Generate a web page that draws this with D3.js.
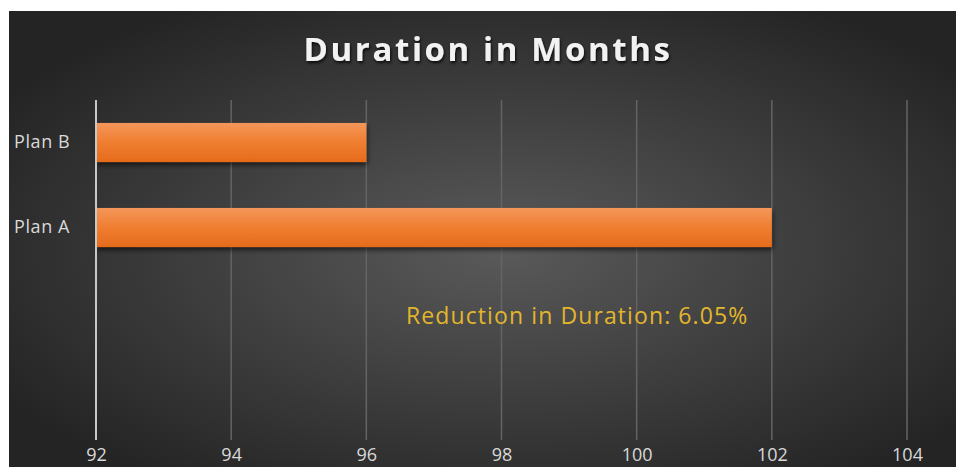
<!DOCTYPE html>
<html><head><meta charset="utf-8">
<script src="https://cdn.jsdelivr.net/npm/d3@7"></script>
<style>body{margin:0;background:#fff;}svg{display:block;font-family:"Open Sans",sans-serif;}</style>
</head><body><svg id="c" width="956" height="467"></svg>
<script>
const categories = ["Plan B", "Plan A"];
const values = [96, 102];
const slots = ["Plan B", "Plan A", "slot3", "slot4"];
const xTicks = [92, 94, 96, 98, 100, 102, 104];
const title = "Duration in Months";
const note = "Reduction in Duration: 6.05%";

const svg = d3.select("#c");
const defs = svg.append("defs");
const rg = defs.append("radialGradient").attr("id","bg").attr("cx","52%").attr("cy","52%").attr("r","62%");
rg.append("stop").attr("offset","0%").attr("stop-color","#5a5a5a");
rg.append("stop").attr("offset","100%").attr("stop-color","#242424");
const lg = defs.append("linearGradient").attr("id","bar").attr("x1",0).attr("y1",0).attr("x2",0).attr("y2",1);
lg.append("stop").attr("offset","0%").attr("stop-color","#f4965a");
lg.append("stop").attr("offset","50%").attr("stop-color","#f07e30");
lg.append("stop").attr("offset","100%").attr("stop-color","#e46b1c");
const f = defs.append("filter").attr("id","sh").attr("x","-5%").attr("y","-20%").attr("width","110%").attr("height","160%");
f.append("feDropShadow").attr("dx",1).attr("dy",3).attr("stdDeviation",2.5).attr("flood-color","#000").attr("flood-opacity",0.6);
const tf = defs.append("filter").attr("id","tsh").attr("x","-5%").attr("y","-20%").attr("width","110%").attr("height","160%");
tf.append("feDropShadow").attr("dx",1).attr("dy",2).attr("stdDeviation",1.5).attr("flood-color","#000").attr("flood-opacity",0.8);

svg.append("rect").attr("x",9).attr("y",11).attr("width",947).attr("height",456).attr("fill","url(#bg)");

const x = d3.scaleLinear().domain([92,104]).range([96,907]);
const y = d3.scaleBand().domain(slots).range([100,440]).paddingInner(0.54).paddingOuter(0.27);

// gridlines
svg.append("g").selectAll("line").data(xTicks.slice(1)).join("line")
  .attr("x1",d=>x(d)).attr("x2",d=>x(d)).attr("y1",100).attr("y2",440)
  .attr("stroke","#646464").attr("stroke-width",1.5);

// bars
svg.append("g").selectAll("rect").data(categories).join("rect")
  .attr("x",x(92)).attr("y",d=>y(d)).attr("height",y.bandwidth())
  .attr("width",(d,i)=>x(values[i])-x(92))
  .attr("fill","url(#bar)").attr("filter","url(#sh)");

// axis line at 92
svg.append("line").attr("x1",x(92)).attr("x2",x(92)).attr("y1",100).attr("y2",440)
  .attr("stroke","#c8c8c8").attr("stroke-width",2);

// x tick labels
const xa = svg.append("g").attr("transform","translate(0,461)")
  .call(d3.axisBottom(x).tickValues(xTicks).tickSize(0).tickPadding(0).tickFormat(d3.format("d")));
xa.select(".domain").remove();
xa.selectAll("text").attr("fill","#d9d9d9").attr("font-size",18).attr("font-family","Open Sans, sans-serif").attr("dy","0");

// y labels
const ya = svg.append("g").attr("transform","translate(80,0)")
  .call(d3.axisLeft(y).tickSize(0).tickPadding(0).tickFormat(d=>categories.includes(d)?d:""));
ya.select(".domain").remove();
ya.selectAll("text").attr("fill","#d9d9d9").attr("font-size",18).attr("letter-spacing",0.6).attr("font-family","Open Sans, sans-serif").attr("text-anchor","start").attr("x",-66);

// title
svg.append("text").attr("x",488).attr("y",61).attr("text-anchor","middle")
  .attr("font-size",33).attr("font-weight","bold").attr("letter-spacing",2.6)
  .attr("fill","#f2f2f2").attr("filter","url(#tsh)").text(title);

// note
svg.append("text").attr("x",406).attr("y",324)
  .attr("font-size",23).attr("letter-spacing",1.1).attr("fill","#e2b62c").text(note);
</script></body></html>
